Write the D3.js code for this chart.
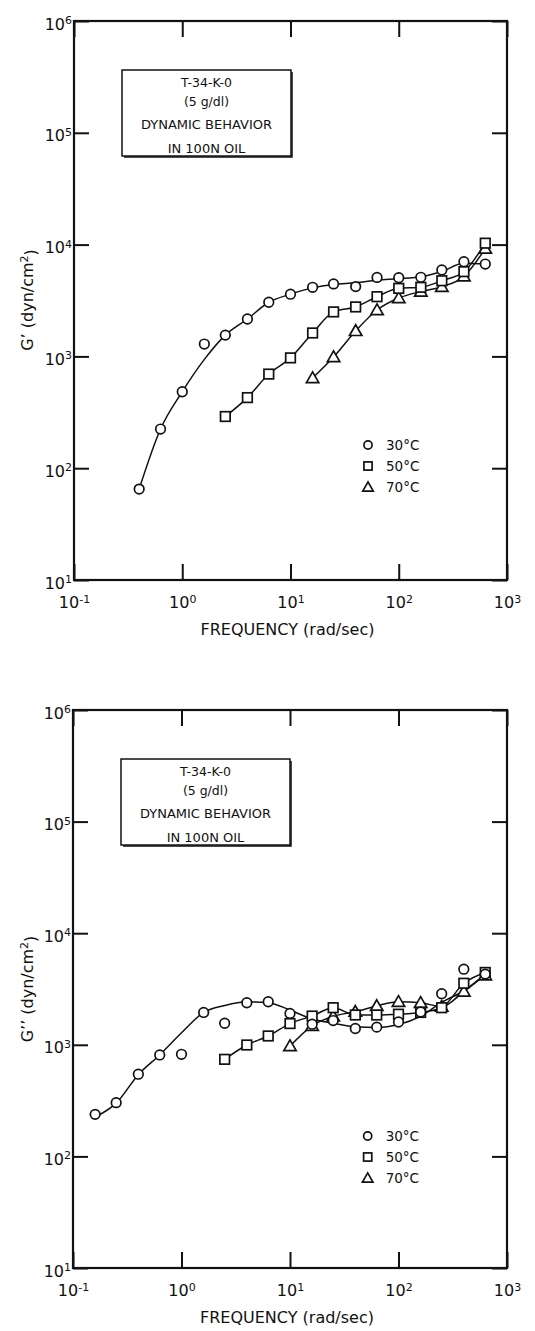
<!DOCTYPE html>
<html><head><meta charset="utf-8">
<script src="https://cdn.jsdelivr.net/npm/d3@7"></script>
<style>
body{margin:0;background:#fff}
svg{display:block}
text{font-family:"DejaVu Sans",sans-serif;fill:#111}
</style>
</head><body><svg id="c" width="535" height="1331"></svg>
<script>
// ---- ticks / labels ----
const xTickValues = [0.1, 1, 10, 100, 1000];
const xTickExps   = ["-1", "0", "1", "2", "3"];
const yTickValues = [10, 100, 1000, 1e4, 1e5, 1e6];
const yTickExps   = ["1", "2", "3", "4", "5", "6"];
const boxLines    = ["T-34-K-0", "(5 g/dl)", "DYNAMIC BEHAVIOR", "IN 100N OIL"];
const seriesNames = ["30°C", "50°C", "70°C"];
const xTitle      = "FREQUENCY (rad/sec)";

// ---- top panel: G' ----
const freqTop30 = [0.4, 0.63, 1.0, 1.6, 2.5, 4, 6.3, 10, 16, 25, 40, 63, 100, 160, 250, 400, 630];
const gp30      = [65, 224, 483, 1290, 1550, 2160, 3050, 3600, 4150, 4450, 4210, 5090, 5050, 5100, 5930, 7030, 6700];
const gp30Fit   = [65, 224, 483, 940, 1550, 2160, 3050, 3600, 4100, 4400, 4550, 4800, 4950, 5150, 5750, 6800, 6700];
const freqTop50 = [2.5, 4, 6.3, 10, 16, 25, 40, 63, 100, 160, 250, 400, 630];
const gp50      = [290, 428, 695, 970, 1620, 2500, 2770, 3420, 4060, 4150, 4750, 5730, 10300];
const freqTop70 = [16, 25, 40, 63, 100, 160, 250, 400, 630];
const gp70      = [641, 988, 1690, 2600, 3330, 3800, 4200, 5200, 9200];

// ---- bottom panel: G'' ----
const freqBot30 = [0.16, 0.25, 0.4, 0.63, 1.0, 1.6, 2.5, 4, 6.3, 10, 16, 25, 40, 63, 100, 160, 250, 400, 630];
const gpp30     = [238, 303, 545, 811, 822, 1950, 1560, 2380, 2430, 1910, 1530, 1650, 1400, 1440, 1600, 1970, 2870, 4760, 4300];
const gpp30Fit  = [225, 300, 540, 811, 1280, 1950, 2250, 2430, 2380, 2050, 1700, 1560, 1450, 1430, 1520, 1800, 2400, 3050, 4300];
const freqBot50 = [2.5, 4, 6.3, 10, 16, 25, 40, 63, 100, 160, 250, 400, 630];
const gpp50     = [741, 996, 1200, 1550, 1810, 2150, 1850, 1850, 1880, 1950, 2150, 3560, 4450];
const freqBot70 = [10, 16, 25, 40, 63, 100, 160, 250, 400, 630];
const gpp70     = [975, 1480, 1800, 1980, 2230, 2430, 2380, 2200, 3000, 4200];

const svg = d3.select("#c");

function zip(xs, ys){ return xs.map((x,i)=>({x:x, y:ys[i]})); }

function marker(g, kind, cx, cy, s){
  s = s || 1;
  if(kind==="circle"){
    g.append("circle").attr("cx",cx).attr("cy",cy).attr("r",4.8*s)
     .attr("fill","#fff").attr("stroke","#111").attr("stroke-width",1.7);
  } else if(kind==="square"){
    g.append("rect").attr("x",cx-4.8*s).attr("y",cy-4.8*s).attr("width",9.6*s).attr("height",9.6*s)
     .attr("fill","#fff").attr("stroke","#111").attr("stroke-width",1.7);
  } else {
    g.append("path").attr("d",d3.symbol(d3.symbolTriangle, 66*s*s)())
     .attr("transform",`translate(${cx},${cy+1})`)
     .attr("fill","#fff").attr("stroke","#111").attr("stroke-width",1.7);
  }
}

function supText(sel, base, exp, supSize){
  sel.text("");
  sel.append("tspan").text(base);
  sel.append("tspan").attr("dy","-0.5em").attr("font-size",supSize).text(exp);
}

function drawPanel(cfg){
  const x = d3.scaleLog().domain([0.1,1000]).range([cfg.left,cfg.right]);
  const y = d3.scaleLog().domain([10,1e6]).range([cfg.bottom,cfg.top]);
  const g = svg.append("g");

  // axes
  const ax = g.append("g").attr("transform",`translate(0,${cfg.bottom})`)
    .call(d3.axisBottom(x).tickValues(xTickValues).tickSize(-16).tickPadding(0));
  ax.selectAll("text").each(function(d,i){
    const t=d3.select(this);
    t.attr("y",28).attr("dy",0).attr("font-size",16).attr("fill","#111");
    supText(t,"10",xTickExps[i],11);
  });
  const axt = g.append("g").attr("transform",`translate(0,${cfg.top})`)
    .call(d3.axisTop(x).tickValues(xTickValues).tickSize(-16).tickFormat(""));
  const ay = g.append("g").attr("transform",`translate(${cfg.left},0)`)
    .call(d3.axisLeft(y).tickValues(yTickValues).tickSize(-15).tickPadding(0));
  ay.selectAll("text").each(function(d,i){
    const t=d3.select(this);
    t.attr("x",-2).attr("dy",0).attr("y",8).attr("font-size",16).attr("fill","#111");
    supText(t,"10",yTickExps[i],11);
  });
  const ayr = g.append("g").attr("transform",`translate(${cfg.right},0)`)
    .call(d3.axisRight(y).tickValues(yTickValues).tickSize(-15).tickFormat(""));
  [ax,axt,ay,ayr].forEach(a=>{
    a.select(".domain").remove();
    a.selectAll("line").attr("stroke","#111").attr("stroke-width",2);
  });

  // frame
  g.append("rect").attr("x",cfg.left).attr("y",cfg.top)
    .attr("width",cfg.right-cfg.left).attr("height",cfg.bottom-cfg.top)
    .attr("fill","none").attr("stroke","#111").attr("stroke-width",2.2);

  // axis titles
  g.append("text").attr("x",(cfg.left+cfg.right)/2 - 3).attr("y",cfg.bottom+55)
    .attr("text-anchor","middle").attr("font-size",16).text(xTitle);
  const yt = g.append("text").attr("transform",`translate(33,${cfg.yTitleC}) rotate(-90)`)
    .attr("text-anchor","middle").attr("font-size",16);
  yt.append("tspan").text(cfg.yTitle + " (dyn/cm");
  yt.append("tspan").attr("dy","-0.5em").attr("font-size",11).text("2");
  yt.append("tspan").attr("dy","0.5em").text(")");

  // info box
  const bx = cfg.left+48, by = cfg.top+49, bw = 169, bh = 86;
  g.append("rect").attr("x",bx).attr("y",by).attr("width",bw).attr("height",bh)
    .attr("fill","#fff").attr("stroke","#111").attr("stroke-width",1.5);
  g.append("path").attr("d",`M${bx+bw+1},${by+2}V${by+bh+1}H${bx+2}`)
    .attr("fill","none").attr("stroke","#111").attr("stroke-width",1.5);
  const offs=[17,36,59,83], sizes=[12.5,12.5,13,13];
  boxLines.forEach((s,i)=>{
    g.append("text").attr("x",bx+bw/2).attr("y",by+offs[i]).attr("text-anchor","middle")
      .attr("font-size",sizes[i]).text(s);
  });

  // lines
  const line = d3.line().x(d=>x(d.x)).y(d=>y(d.y)).curve(d3.curveMonotoneX);
  cfg.series.forEach(s=>{
    g.append("path").attr("d",line(s.fit)).attr("fill","none")
      .attr("stroke","#111").attr("stroke-width",1.5);
  });
  // markers
  cfg.series.slice().reverse().forEach(s=>{
    s.pts.forEach(p=>marker(g,s.kind,x(p.x),y(p.y)));
  });

  // legend
  cfg.series.forEach((s,i)=>{
    const ly = cfg.legendY + i*21;
    marker(g,s.kind,x(cfg.legendX),ly,0.85);
    g.append("text").attr("x",x(cfg.legendX)+18).attr("y",ly+5).attr("font-size",13.5).text(seriesNames[i]);
  });
}

drawPanel({
  left:74, right:507, top:21, bottom:580, yTitle:"G’", yTitleC:300,
  legendX:52, legendY:445,
  series:[
    {kind:"circle", pts:zip(freqTop30,gp30), fit:zip(freqTop30,gp30Fit)},
    {kind:"square", pts:zip(freqTop50,gp50), fit:zip(freqTop50,gp50)},
    {kind:"triangle", pts:zip(freqTop70,gp70), fit:zip(freqTop70,gp70)}
  ]
});
drawPanel({
  left:73, right:507, top:710, bottom:1268, yTitle:"G’’", yTitleC:989,
  legendX:52, legendY:1136,
  series:[
    {kind:"circle", pts:zip(freqBot30,gpp30), fit:zip(freqBot30,gpp30Fit)},
    {kind:"square", pts:zip(freqBot50,gpp50), fit:zip(freqBot50,gpp50)},
    {kind:"triangle", pts:zip(freqBot70,gpp70), fit:zip(freqBot70,gpp70)}
  ]
});
</script>
</body></html>
